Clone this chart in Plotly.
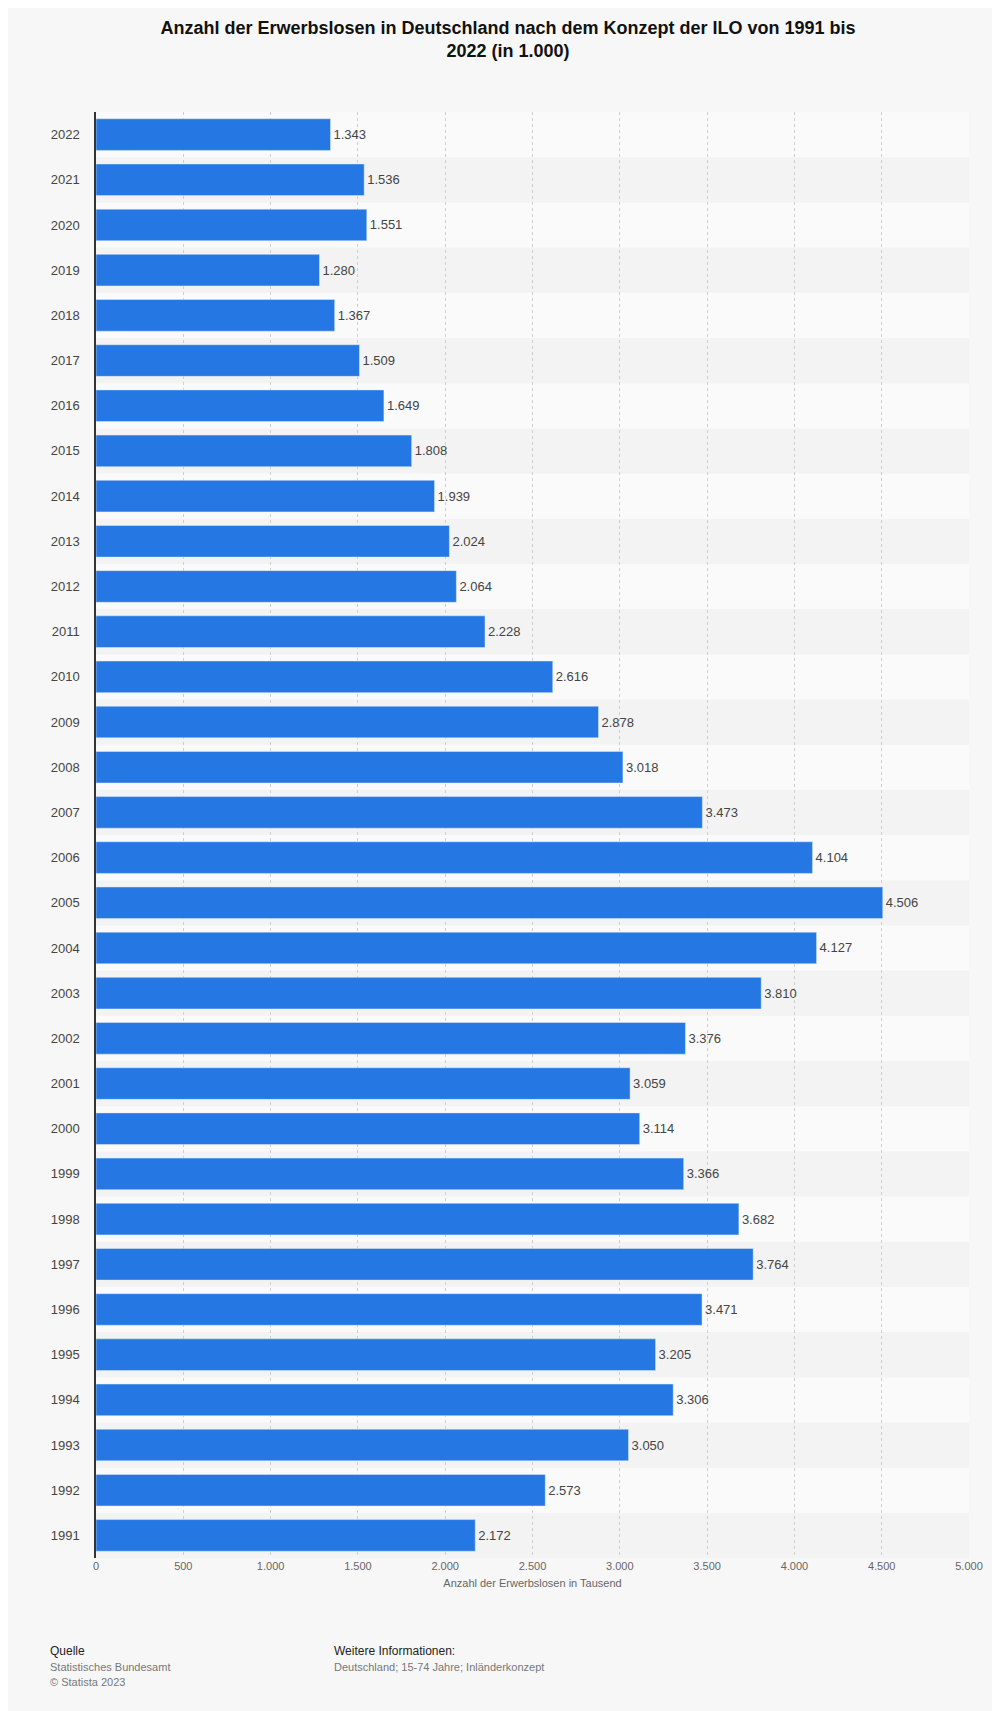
import plotly.graph_objects as go

years = [str(y) for y in range(1991, 2023)]
values = [2172, 2573, 3050, 3306, 3205, 3471, 3764, 3682, 3366, 3114,
          3059, 3376, 3810, 4127, 4506, 4104, 3473, 3018, 2878, 2616,
          2228, 2064, 2024, 1939, 1808, 1649, 1509, 1367, 1280, 1551,
          1536, 1343]
x_ticks = [0, 500, 1000, 1500, 2000, 2500, 3000, 3500, 4000, 4500, 5000]

fig = go.Figure()

# alternating row stripes
for i, yr in enumerate(years):
    fig.add_shape(type='rect', xref='paper', yref='y', layer='below',
                  x0=0, x1=1, y0=i - 0.5, y1=i + 0.5,
                  fillcolor='#f3f3f3' if i % 2 == 0 else '#fafafa',
                  line=dict(width=0))

fig.add_trace(go.Bar(
    x=values, y=years, orientation='h',
    marker=dict(color='#2577e3'),
    width=0.7,
    text=[f'{v:,}'.replace(',', '.') for v in values],
    textposition='outside',
    textfont=dict(size=13, color='#444'),
    cliponaxis=False,
    hoverinfo='skip',
))

fig.update_layout(
    width=1000, height=1711,
    paper_bgcolor='#f7f7f7', plot_bgcolor='rgba(0,0,0,0)',
    font=dict(family='Liberation Sans, Arial, sans-serif', color='#333'),
    separators=',.',
    margin=dict(l=88, r=39, t=104, b=161),
    title=dict(text='<b>Anzahl der Erwerbslosen in Deutschland nach dem Konzept der ILO von 1991 bis<br>2022 (in 1.000)</b>',
               x=0.5, xanchor='center', y=0.985, yanchor='top',
               font=dict(size=18, color='#111')),
    showlegend=False,
    bargap=0.3,
)
fig.update_xaxes(range=[0, 5000], tickvals=x_ticks, tickformat=',d',
                 showgrid=True, gridcolor='#cfcfcf', griddash='dot',
                 zeroline=False, tickfont=dict(size=11, color='#666'),
                 title=dict(text='Anzahl der Erwerbslosen in Tausend',
                            font=dict(size=11, color='#666'), standoff=8))
fig.update_yaxes(categoryorder='array', categoryarray=years,
                 showline=True, linecolor='#333', linewidth=1.5,
                 tickfont=dict(size=13, color='#444'), ticks='', ticklabelstandoff=12,
                 range=[-0.5, len(years) - 0.5])

fig.add_annotation(xref='paper', yref='paper', x=-0.055, y=-0.058, xanchor='left', yanchor='top',
                   align='left', showarrow=False,
                   text='<span style="color:#222;font-size:12px">Quelle</span><br>'
                        '<span style="color:#777;font-size:11px">Statistisches Bundesamt<br>© Statista 2023</span>')
fig.add_annotation(xref='paper', yref='paper', x=0.27, y=-0.058, xanchor='left', yanchor='top',
                   align='left', showarrow=False,
                   text='<span style="color:#222;font-size:12px">Weitere Informationen:</span><br>'
                        '<span style="color:#777;font-size:11px">Deutschland; 15-74 Jahre; Inländerkonzept</span>')

fig.write_html('out.html')
